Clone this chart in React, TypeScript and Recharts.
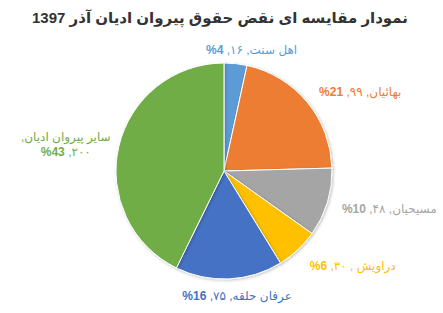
import React from "react";
import { PieChart, Pie, Cell } from "recharts";

const title = "نمودار مقایسه ای نقض حقوق پیروان ادیان آذر  1397";
const categories = ["اهل سنت", "بهائیان", "مسیحیان", "دراویش ", "عرفان حلقه", "سایر پیروان ادیان"];
const counts = [16, 99, 48, 30, 75, 200];
const countLabels = ["۱۶", "۹۹", "۴۸", "۳۰", "۷۵", "۲۰۰"];
const percentLabels = ["4%", "21%", "10%", "6%", "16%", "43%"];

const colors = ["#5B9BD5", "#ED7D31", "#A5A5A5", "#FFC000", "#4472C4", "#70AD47"];
// label offsets from the slice's outer edge (style only)
const labelOffsets = [
  [16, -13],
  [53, -9],
  [62, 8],
  [55, 17],
  [8, 18],
  [-53, -2],
];

const data = categories.map((name, i) => ({
  name,
  value: counts[i],
  countLabel: countLabels[i],
  pct: percentLabels[i],
}));

const RAD = Math.PI / 180;
const FONT = "'Liberation Sans', 'DejaVu Sans', Arial, sans-serif";

const renderLabel = (props: any) => {
  const { cx, cy, midAngle, outerRadius, index } = props;
  const d = data[index];
  const ex = cx + outerRadius * Math.cos(-midAngle * RAD);
  const ey = cy + outerRadius * Math.sin(-midAngle * RAD);
  const x = ex + labelOffsets[index][0];
  const y = ey + labelOffsets[index][1];
  const common = {
    fill: colors[index],
    fontFamily: FONT,
    fontSize: 12,
    textAnchor: "middle" as const,
    direction: "rtl" as const,
  };
  if (index === 5) {
    // no Arabic letters on this line, so put the percent sign first to show it on the left
    const pctText = "%" + d.pct.replace("%", "");
    return (
      <g key={`l${index}`}>
        <text x={x} y={y - 7} dominantBaseline="middle" {...common}>
          {d.name + ","}
        </text>
        <text x={x} y={y + 8} dominantBaseline="middle" {...common}>
          <tspan>{d.countLabel + ", "}</tspan>
          <tspan fontWeight="bold">{pctText}</tspan>
        </text>
      </g>
    );
  }
  return (
    <text key={`l${index}`} x={x} y={y} dominantBaseline="middle" {...common}>
      <tspan>{d.name + ", " + d.countLabel + ", "}</tspan>
      <tspan fontWeight="bold">{d.pct}</tspan>
    </text>
  );
};

export default function App() {
  return (
    <div style={{ position: "absolute", left: 0, top: 0, width: 443, height: 313, background: "#fff" }}>
      <PieChart width={443} height={313} margin={{ top: 0, right: 0, bottom: 0, left: 0 }}>
        <defs>
          <filter id="sh" x="-20%" y="-20%" width="140%" height="140%">
            <feDropShadow dx="1" dy="1" stdDeviation="1.5" floodColor="#000" floodOpacity="0.25" />
          </filter>
        </defs>
        <text
          x={220}
          y={19}
          textAnchor="middle"
          dominantBaseline="middle"
          direction="rtl"
          fontFamily={FONT}
          fontSize={15}
          fontWeight="bold"
          fill="#333333"
        >
          {title}
        </text>
        <Pie
          data={data}
          dataKey="value"
          nameKey="name"
          cx={224}
          cy={171}
          outerRadius={108}
          startAngle={90}
          endAngle={-270}
          stroke="#fff"
          strokeWidth={1}
          label={renderLabel}
          labelLine={false}
          isAnimationActive={false}
          style={{ filter: "url(#sh)" }}
        >
          {data.map((_, i) => (
            <Cell key={i} fill={colors[i]} />
          ))}
        </Pie>
      </PieChart>
    </div>
  );
}
